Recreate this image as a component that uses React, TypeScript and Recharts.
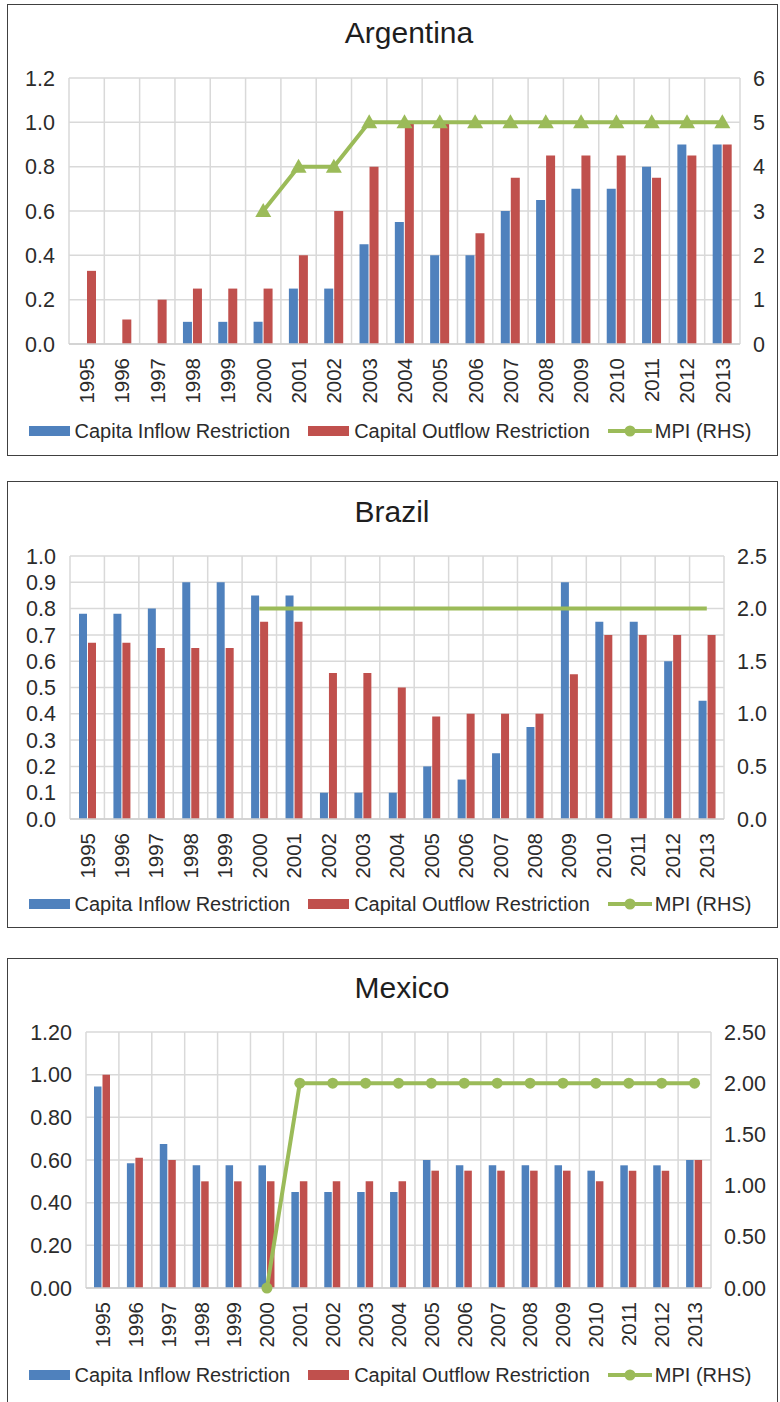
import { ComposedChart, Bar, Line, XAxis, YAxis, CartesianGrid, Legend } from 'recharts'

const FONT = '"Liberation Sans", Arial, sans-serif'
const BLUE = '#4F81BD'
const RED = '#C0504D'
const GREEN = '#9BBB59'
const GRID = '#d9d9d9'
const TEXT = '#2b2b2b'

const YEARS = ['1995', '1996', '1997', '1998', '1999', '2000', '2001', '2002', '2003', '2004',
  '2005', '2006', '2007', '2008', '2009', '2010', '2011', '2012', '2013']

const SERIES_NAMES = ['Capita Inflow Restriction', 'Capital Outflow Restriction', 'MPI (RHS)']

// Argentina
const AR_INFLOW = [0, 0, 0, 0.1, 0.1, 0.1, 0.25, 0.25, 0.45, 0.55, 0.4, 0.4, 0.6, 0.65, 0.7, 0.7, 0.8, 0.9, 0.9]
const AR_OUTFLOW = [0.33, 0.11, 0.2, 0.25, 0.25, 0.25, 0.4, 0.6, 0.8, 1.0, 1.0, 0.5, 0.75, 0.85, 0.85, 0.85, 0.75, 0.85, 0.9]
const AR_MPI = [null, null, null, null, null, 3, 4, 4, 5, 5, 5, 5, 5, 5, 5, 5, 5, 5, 5]
const AR_LEFT_TICKS = [0, 0.2, 0.4, 0.6, 0.8, 1.0, 1.2]
const AR_RIGHT_TICKS = [0, 1, 2, 3, 4, 5, 6]

// Brazil
const BR_INFLOW = [0.78, 0.78, 0.8, 0.9, 0.9, 0.85, 0.85, 0.1, 0.1, 0.1, 0.2, 0.15, 0.25, 0.35, 0.9, 0.75, 0.75, 0.6, 0.45]
const BR_OUTFLOW = [0.67, 0.67, 0.65, 0.65, 0.65, 0.75, 0.75, 0.555, 0.555, 0.5, 0.39, 0.4, 0.4, 0.4, 0.55, 0.7, 0.7, 0.7, 0.7]
const BR_MPI = [null, null, null, null, null, 2, 2, 2, 2, 2, 2, 2, 2, 2, 2, 2, 2, 2, 2]
const BR_LEFT_TICKS = [0, 0.1, 0.2, 0.3, 0.4, 0.5, 0.6, 0.7, 0.8, 0.9, 1.0]
const BR_RIGHT_TICKS = [0, 0.5, 1.0, 1.5, 2.0, 2.5]

// Mexico
const MX_INFLOW = [0.945, 0.585, 0.675, 0.575, 0.575, 0.575, 0.45, 0.45, 0.45, 0.45, 0.6, 0.575, 0.575, 0.575, 0.575, 0.55, 0.575, 0.575, 0.6]
const MX_OUTFLOW = [1.0, 0.61, 0.6, 0.5, 0.5, 0.5, 0.5, 0.5, 0.5, 0.5, 0.55, 0.55, 0.55, 0.55, 0.55, 0.5, 0.55, 0.55, 0.6]
const MX_MPI = [null, null, null, null, null, 0, 2, 2, 2, 2, 2, 2, 2, 2, 2, 2, 2, 2, 2]
const MX_LEFT_TICKS = [0, 0.2, 0.4, 0.6, 0.8, 1.0, 1.2]
const MX_RIGHT_TICKS = [0, 0.5, 1.0, 1.5, 2.0, 2.5]

function buildRows(inflow: number[], outflow: number[], mpi: (number | null)[]) {
  return YEARS.map((year, i) => ({ year, inflow: inflow[i], outflow: outflow[i], mpi: mpi[i] }))
}

function YearTick({ x, y, payload }: any) {
  return (
    <text x={0} y={0} transform={`translate(${x},${y}) rotate(-90)`} textAnchor="end" dy="0.36em"
      fontSize={20.5} fill={TEXT} fontFamily={FONT}>
      {payload.value}
    </text>
  )
}

function TriangleDot(props: any) {
  const { cx, cy, value } = props
  if (cx == null || cy == null || value == null) return <g />
  return <polygon points={`${cx},${cy - 8} ${cx - 8},${cy + 6} ${cx + 8},${cy + 6}`} fill={GREEN} />
}

function LegendContent({ payload }: any) {
  return (
    <div style={{ display: 'flex', justifyContent: 'center', alignItems: 'center', gap: 18,
      fontFamily: FONT, fontSize: 20, color: TEXT, lineHeight: '24px' }}>
      {(payload || []).map((p: any) => (
        <span key={p.value} style={{ display: 'flex', alignItems: 'center' }}>
          {p.type === 'line' ? (
            <svg width={44} height={14} style={{ marginRight: 3 }}>
              <line x1={0} y1={7} x2={44} y2={7} stroke={GREEN} strokeWidth={4} />
              <circle cx={22} cy={7} r={5.5} fill={GREEN} />
            </svg>
          ) : (
            <span style={{ display: 'inline-block', width: 41, height: 10, background: p.color, marginRight: 5 }} />
          )}
          {p.value}
        </span>
      ))}
    </div>
  )
}

interface PanelProps {
  title: string
  top: number
  height: number
  plot: { left: number; right: number; top: number; bottom: number }
  titleX: number
  titleY: number
  legendY: number
  leftW: number
  rightW: number
  rows: any[]
  leftTicks: number[]
  rightTicks: number[]
  leftFmt: (v: number) => string
  rightFmt: (v: number) => string
  barSize: number
  marker: 'triangle' | 'circle' | 'none'
}

function Panel(p: PanelProps) {
  const W = 780
  const xAxisH = 60
  const margin = {
    top: p.plot.top - p.top,
    bottom: p.top + p.height - p.plot.bottom - xAxisH,
    left: p.plot.left - p.leftW,
    right: W - p.plot.right - p.rightW,
  }
  const n = YEARS.length
  const dot = p.marker === 'triangle' ? TriangleDot
    : p.marker === 'circle' ? { r: 5.5, fill: GREEN, stroke: GREEN, strokeWidth: 0 } : false

  return (
    <>
      <div style={{ position: 'absolute', left: 7, top: p.top, width: 771, height: p.height,
        border: '1.5px solid #404040', boxSizing: 'border-box', background: '#fff' }} />
      <div style={{ position: 'absolute', left: 0, top: p.top, width: W, height: p.height }}>
        <div style={{ position: 'absolute', left: p.titleX - 200, width: 400, top: p.titleY - p.top - 18,
          textAlign: 'center', fontFamily: FONT, fontSize: 30, lineHeight: '36px', color: '#1e1e1e' }}>
          {p.title}
        </div>
        <ComposedChart width={W} height={p.height} data={p.rows} margin={margin} barGap={1} barSize={p.barSize}>
          <CartesianGrid yAxisId="left" stroke={GRID} strokeWidth={1.5}
            verticalCoordinatesGenerator={({ offset }: any) =>
              Array.from({ length: n + 1 }, (_, i) => offset.left + (i * offset.width) / n)} />
          <XAxis dataKey="year" interval={0} height={xAxisH} tick={<YearTick />} tickLine={false}
            tickSize={0} tickMargin={14} axisLine={{ stroke: '#cfcfcf', strokeWidth: 1.5 }} />
          <YAxis yAxisId="left" width={p.leftW} domain={[p.leftTicks[0], p.leftTicks[p.leftTicks.length - 1]]}
            ticks={p.leftTicks} tickFormatter={p.leftFmt} axisLine={false} tickLine={false} tickSize={0}
            tickMargin={14} interval={0}
            tick={{ fontSize: 21.5, fill: TEXT, fontFamily: FONT }} />
          <YAxis yAxisId="right" orientation="right" width={p.rightW}
            domain={[p.rightTicks[0], p.rightTicks[p.rightTicks.length - 1]]} ticks={p.rightTicks}
            tickFormatter={p.rightFmt} axisLine={false} tickLine={false} tickSize={0} tickMargin={13} interval={0}
            tick={{ fontSize: 21.5, fill: TEXT, fontFamily: FONT }} />
          <Legend verticalAlign="middle" content={<LegendContent />}
            wrapperStyle={{ top: p.legendY - p.top - 12, left: 0, width: W, height: 24 }} />
          <Bar yAxisId="left" dataKey="inflow" name={SERIES_NAMES[0]} fill={BLUE} isAnimationActive={false} />
          <Bar yAxisId="left" dataKey="outflow" name={SERIES_NAMES[1]} fill={RED} isAnimationActive={false} />
          <Line yAxisId="right" dataKey="mpi" name={SERIES_NAMES[2]} stroke={GREEN} strokeWidth={4}
            type="linear" dot={dot as any} activeDot={false} isAnimationActive={false} />
        </ComposedChart>
      </div>
    </>
  )
}

export default function App() {
  return (
    <div style={{ position: 'absolute', left: 0, top: 0, width: 780, height: 1402, background: '#fff', overflow: 'hidden' }}>
      <Panel title="Argentina" top={4} height={452}
        plot={{ left: 69, right: 740, top: 78, bottom: 344 }} titleX={409} titleY={33} legendY={431}
        leftW={60} rightW={35} rows={buildRows(AR_INFLOW, AR_OUTFLOW, AR_MPI)}
        leftTicks={AR_LEFT_TICKS} rightTicks={AR_RIGHT_TICKS}
        leftFmt={(v) => v.toFixed(1)} rightFmt={(v) => String(v)} barSize={9} marker="triangle" />
      <Panel title="Brazil" top={481} height={447}
        plot={{ left: 70, right: 724, top: 556, bottom: 819 }} titleX={392} titleY={512} legendY={904}
        leftW={60} rightW={50} rows={buildRows(BR_INFLOW, BR_OUTFLOW, BR_MPI)}
        leftTicks={BR_LEFT_TICKS} rightTicks={BR_RIGHT_TICKS}
        leftFmt={(v) => v.toFixed(1)} rightFmt={(v) => v.toFixed(1)} barSize={8} marker="none" />
      <Panel title="Mexico" top={958} height={450}
        plot={{ left: 86, right: 711, top: 1032, bottom: 1288 }} titleX={402} titleY={988} legendY={1375}
        leftW={70} rightW={60} rows={buildRows(MX_INFLOW, MX_OUTFLOW, MX_MPI)}
        leftTicks={MX_LEFT_TICKS} rightTicks={MX_RIGHT_TICKS}
        leftFmt={(v) => v.toFixed(2)} rightFmt={(v) => v.toFixed(2)} barSize={7.5} marker="circle" />
    </div>
  )
}
